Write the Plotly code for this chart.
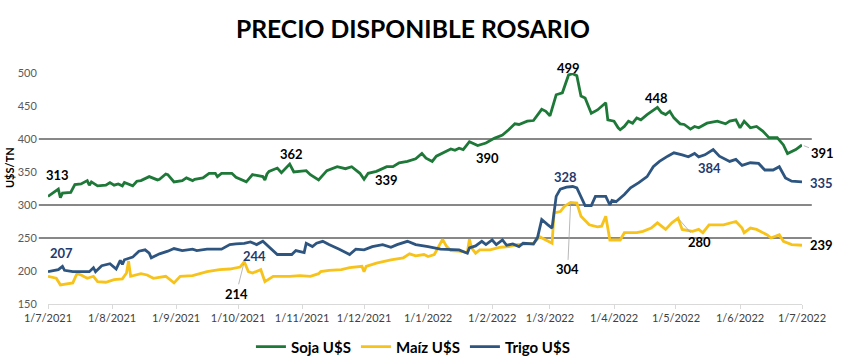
import plotly.graph_objects as go
import pandas as pd

soja_dates = ["2021-07-01","2021-07-06","2021-07-07","2021-07-08","2021-07-12","2021-07-14","2021-07-17","2021-07-20","2021-07-21","2021-07-22","2021-07-25","2021-07-29","2021-07-31","2021-08-02","2021-08-04","2021-08-06","2021-08-07","2021-08-11","2021-08-13","2021-08-15","2021-08-19","2021-08-23","2021-08-24","2021-08-27","2021-08-28","2021-08-31","2021-09-04","2021-09-06","2021-09-09","2021-09-10","2021-09-14","2021-09-17","2021-09-20","2021-09-21","2021-09-23","2021-09-28","2021-09-30","2021-10-05","2021-10-08","2021-10-13","2021-10-14","2021-10-15","2021-10-16","2021-10-20","2021-10-22","2021-10-26","2021-10-28","2021-11-03","2021-11-05","2021-11-09","2021-11-13","2021-11-18","2021-11-22","2021-11-25","2021-11-29","2021-12-01","2021-12-03","2021-12-07","2021-12-12","2021-12-15","2021-12-18","2021-12-22","2021-12-26","2021-12-29","2021-12-31","2022-01-03","2022-01-05","2022-01-09","2022-01-12","2022-01-14","2022-01-16","2022-01-18","2022-01-21","2022-01-25","2022-01-29","2022-02-02","2022-02-06","2022-02-09","2022-02-12","2022-02-14","2022-02-18","2022-02-21","2022-02-25","2022-02-27","2022-03-01","2022-03-04","2022-03-07","2022-03-10","2022-03-12","2022-03-14","2022-03-16","2022-03-18","2022-03-21","2022-03-24","2022-03-28","2022-03-29","2022-04-01","2022-04-03","2022-04-04","2022-04-06","2022-04-08","2022-04-10","2022-04-12","2022-04-14","2022-04-17","2022-04-22","2022-04-24","2022-04-26","2022-04-28","2022-04-30","2022-05-03","2022-05-05","2022-05-08","2022-05-10","2022-05-12","2022-05-16","2022-05-21","2022-05-25","2022-05-27","2022-05-30","2022-06-01","2022-06-03","2022-06-06","2022-06-09","2022-06-12","2022-06-15","2022-06-19","2022-06-22","2022-06-24","2022-06-28","2022-07-01"]
soja_values = [313,324,311,318,319,331,332,337,330,335,329,330,334,330,332,329,334,329,336,337,343,338,339,347,346,335,337,341,337,339,341,348,348,343,348,348,342,335,346,343,338,347,351,356,349,362,350,352,346,338,352,358,355,358,348,339,348,351,358,358,364,366,370,378,371,366,374,380,385,383,386,384,396,390,394,401,406,414,423,422,427,428,445,442,435,467,470,497,499,496,465,462,439,444,455,429,427,417,414,419,427,424,432,429,437,448,440,437,442,432,423,422,415,419,417,424,427,423,427,429,417,427,417,419,412,402,402,391,378,384,391]

trigo_dates = ["2021-07-01","2021-07-06","2021-07-08","2021-07-09","2021-07-13","2021-07-21","2021-07-23","2021-07-24","2021-07-27","2021-07-31","2021-08-03","2021-08-05","2021-08-06","2021-08-07","2021-08-11","2021-08-14","2021-08-17","2021-08-19","2021-08-20","2021-08-24","2021-08-28","2021-08-31","2021-09-04","2021-09-09","2021-09-11","2021-09-16","2021-09-23","2021-09-27","2021-09-30","2021-10-04","2021-10-07","2021-10-10","2021-10-13","2021-10-16","2021-10-20","2021-10-27","2021-10-29","2021-11-02","2021-11-03","2021-11-06","2021-11-08","2021-11-11","2021-11-14","2021-11-19","2021-11-24","2021-11-27","2021-12-01","2021-12-05","2021-12-10","2021-12-14","2021-12-17","2021-12-22","2021-12-26","2022-01-01","2022-01-07","2022-01-16","2022-01-20","2022-01-21","2022-01-24","2022-01-27","2022-01-29","2022-02-01","2022-02-03","2022-02-06","2022-02-08","2022-02-11","2022-02-14","2022-02-16","2022-02-21","2022-02-23","2022-02-25","2022-02-28","2022-03-02","2022-03-04","2022-03-06","2022-03-09","2022-03-12","2022-03-14","2022-03-17","2022-03-18","2022-03-21","2022-03-23","2022-03-28","2022-03-30","2022-03-31","2022-04-02","2022-04-06","2022-04-09","2022-04-13","2022-04-17","2022-04-20","2022-04-23","2022-04-27","2022-04-30","2022-05-04","2022-05-07","2022-05-10","2022-05-12","2022-05-15","2022-05-17","2022-05-19","2022-05-22","2022-05-27","2022-05-30","2022-06-02","2022-06-06","2022-06-10","2022-06-13","2022-06-17","2022-06-20","2022-06-23","2022-06-26","2022-07-01"]
trigo_values = [199,202,207,201,199,199,205,199,208,211,203,216,210,217,221,230,232,227,220,226,230,234,231,233,231,233,233,240,241,242,244,240,245,237,225,225,231,228,242,237,242,245,240,233,225,233,232,237,240,236,240,245,240,237,233,232,227,235,238,245,240,247,240,247,239,241,237,242,241,251,278,270,265,313,324,327,328,326,306,299,299,313,313,300,307,305,316,326,334,343,358,366,374,379,376,373,378,373,376,380,384,374,366,369,360,364,363,353,353,358,341,336,335]

maiz_dates = ["2021-07-01","2021-07-05","2021-07-07","2021-07-12","2021-07-13","2021-07-15","2021-07-17","2021-07-20","2021-07-23","2021-07-25","2021-07-29","2021-08-02","2021-08-06","2021-08-08","2021-08-09","2021-08-10","2021-08-15","2021-08-18","2021-08-21","2021-08-27","2021-08-31","2021-09-03","2021-09-09","2021-09-16","2021-09-22","2021-09-27","2021-10-02","2021-10-04","2021-10-06","2021-10-08","2021-10-12","2021-10-14","2021-10-18","2021-10-26","2021-10-31","2021-11-05","2021-11-09","2021-11-10","2021-11-14","2021-11-20","2021-11-24","2021-11-30","2021-12-01","2021-12-02","2021-12-07","2021-12-14","2021-12-20","2021-12-23","2021-12-26","2021-12-30","2022-01-01","2022-01-04","2022-01-08","2022-01-10","2022-01-12","2022-01-16","2022-01-20","2022-01-21","2022-01-22","2022-01-24","2022-01-26","2022-01-31","2022-02-05","2022-02-09","2022-02-13","2022-02-18","2022-02-21","2022-02-24","2022-02-27","2022-03-02","2022-03-03","2022-03-06","2022-03-08","2022-03-11","2022-03-14","2022-03-16","2022-03-20","2022-03-24","2022-03-26","2022-03-28","2022-03-30","2022-04-04","2022-04-06","2022-04-12","2022-04-15","2022-04-19","2022-04-22","2022-04-26","2022-04-29","2022-05-02","2022-05-04","2022-05-09","2022-05-12","2022-05-14","2022-05-17","2022-05-24","2022-05-30","2022-06-02","2022-06-03","2022-06-06","2022-06-09","2022-06-14","2022-06-16","2022-06-20","2022-06-22","2022-06-26","2022-07-01"]
maiz_values = [192,189,179,182,182,196,194,189,192,184,183,187,188,197,215,192,196,194,189,192,182,192,193,199,202,203,206,214,199,197,202,184,192,192,193,192,196,199,201,202,205,207,199,207,212,217,220,226,223,225,222,225,248,237,231,230,228,248,235,227,232,232,236,237,240,241,242,252,247,242,288,290,298,304,303,283,270,267,268,283,247,247,258,258,260,265,273,263,273,280,263,260,263,258,270,270,275,265,258,265,263,255,250,255,245,240,239]

series_names = ["Soja U$S", "Maíz U$S", "Trigo U$S"]
ref_levels = [400, 300, 250]
tick_values = [150, 200, 250, 300, 350, 400, 450, 500]

GREEN = "#1E7838"
YELLOW = "#F7C31A"
BLUE = "#2D5580"
NAVY = "#1F3A6E"
FONT = "Lato"

series = {
    "soja": (soja_dates, soja_values, GREEN, series_names[0]),
    "maiz": (maiz_dates, maiz_values, YELLOW, series_names[1]),
    "trigo": (trigo_dates, trigo_values, BLUE, series_names[2]),
}

fig = go.Figure()
for key in ["soja", "maiz", "trigo"]:
    d, v, c, n = series[key]
    fig.add_trace(go.Scatter(x=pd.to_datetime(d), y=v, mode="lines", name=n,
                             line=dict(color=c, width=2.8), hoverinfo="skip"))

for lvl in ref_levels:
    fig.add_shape(type="line", xref="paper", yref="y", x0=-0.0122, x1=1.013,
                  y0=lvl, y1=lvl, line=dict(color="#111111", width=1), layer="below")

def val(key, date):
    d, v, _, _ = series[key]
    return v[d.index(date)]

# (series, date, xshift, yshift, color, leader offset)
labels = [
    ("soja", "2021-07-01", 9, 21, "black", None),
    ("soja", "2021-10-26", 2, 10, "black", None),
    ("soja", "2021-12-01", 22, -1, "black", None),
    ("soja", "2022-01-25", 10, -12, "black", None),
    ("soja", "2022-03-12", -4, 6, "black", None),
    ("soja", "2022-04-22", -1, 9, "black", None),
    ("soja", "2022-07-01", 0, 0, "black", (20, 8)),
    ("trigo", "2021-07-08", -1, 13, NAVY, None),
    ("trigo", "2021-10-07", 4, -14, NAVY, None),
    ("trigo", "2022-03-12", -7, 10, NAVY, None),
    ("trigo", "2022-05-19", -4, -18, NAVY, None),
    ("trigo", "2022-07-01", 19, -1, NAVY, None),
    ("maiz", "2021-10-04", 0, 0, "black", (-8, 32)),
    ("maiz", "2022-03-11", 0, 0, "black", (-3, 67)),
    ("maiz", "2022-05-02", 0, 0, "black", (21, 24)),
    ("maiz", "2022-07-01", 19, 0, "black", None),
]
for key, date, xs, ys, col, lead in labels:
    y = val(key, date)
    common = dict(x=date, y=y, xref="x", yref="y", text=str(y),
                  xanchor="center", yanchor="middle",
                  font=dict(family=FONT, size=13, color=col, weight="bold"))
    if lead is None:
        fig.add_annotation(**common, showarrow=False, xshift=xs, yshift=ys)
    else:
        fig.add_annotation(**common, showarrow=True, arrowhead=0, arrowwidth=0.8,
                           arrowcolor="#A6A6A6", ax=lead[0], ay=lead[1], standoff=2)

fig.add_annotation(x=-0.0517, y=356, xref="paper", yref="y", text="U$S/TN",
                   textangle=-90, showarrow=False, xanchor="center", yanchor="middle",
                   font=dict(family=FONT, size=11, color="black", weight="bold"))

fig.update_layout(
    width=841, height=364,
    margin=dict(l=48, r=39, t=73, b=60, autoexpand=False),
    paper_bgcolor="white", plot_bgcolor="white",
    title=dict(text="PRECIO DISPONIBLE ROSARIO", x=0.491, xref="container",
               y=0.918, yanchor="middle", xanchor="center",
               font=dict(family=FONT, size=24.7, color="black", weight="bold")),
    legend=dict(orientation="h", x=0.484, xanchor="center", y=-0.186, yanchor="middle",
                font=dict(family=FONT, size=15, color="black", weight="bold"),
                itemwidth=30),
    xaxis=dict(type="date", range=["2021-07-01", "2022-07-01"], dtick="M1",
               tick0="2021-07-01", tickformat="%-d/%-m/%Y", showgrid=False,
               zeroline=False, showline=True, linecolor="#D9D9D9", linewidth=1,
               ticks="outside", ticklen=4, tickcolor="#D9D9D9", automargin=False,
               tickfont=dict(family=FONT, size=11, color="#404040")),
    yaxis=dict(range=[150, 500], tickvals=tick_values, showgrid=False,
               zeroline=False, showline=False, ticks="outside", ticklen=8,
               tickcolor="rgba(0,0,0,0)", automargin=False,
               tickfont=dict(family=FONT, size=11, color="#595959")),
    showlegend=True,
)

fig.write_html("out.html", config={"displayModeBar": False},
               post_script="document.body.style.margin='0px';")
